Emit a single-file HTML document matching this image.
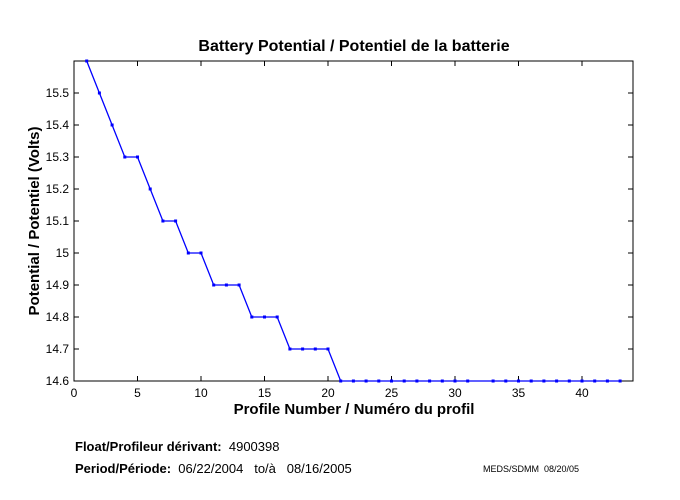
<!DOCTYPE html>
<html><head><meta charset="utf-8"><style>
html,body{margin:0;padding:0;background:#fff;width:680px;height:500px;overflow:hidden}
text{font-family:"Liberation Sans",Arial,sans-serif}
.pre{white-space:pre}
</style></head><body>
<svg width="680" height="500" viewBox="0 0 680 500" xmlns="http://www.w3.org/2000/svg">
<rect x="74" y="61" width="559" height="320" fill="#fff" stroke="#000" stroke-width="1"/>
<g stroke="#000" stroke-width="1">
<path d="M137.5 381v-5M201 381v-5M264.5 381v-5M328 381v-5M391.5 381v-5M455 381v-5M518.5 381v-5M582 381v-5
M137.5 61v5M201 61v5M264.5 61v5M328 61v5M391.5 61v5M455 61v5M518.5 61v5M582 61v5
M74 349h5M74 317h5M74 285h5M74 253h5M74 221h5M74 189h5M74 157h5M74 125h5M74 93h5
M633 349h-5M633 317h-5M633 285h-5M633 253h-5M633 221h-5M633 189h-5M633 157h-5M633 125h-5M633 93h-5"/>
</g>
<g font-size="12" text-anchor="middle" fill="#000">
<text x="74" y="397">0</text><text x="137.5" y="397">5</text><text x="201" y="397">10</text><text x="264.5" y="397">15</text><text x="328" y="397">20</text><text x="391.5" y="397">25</text><text x="455" y="397">30</text><text x="518.5" y="397">35</text><text x="582" y="397">40</text>
</g>
<g font-size="12" text-anchor="end" fill="#000">
<text x="69" y="385">14.6</text><text x="69" y="353">14.7</text><text x="69" y="321">14.8</text><text x="69" y="289">14.9</text><text x="69" y="257">15</text><text x="69" y="225">15.1</text><text x="69" y="193">15.2</text><text x="69" y="161">15.3</text><text x="69" y="129">15.4</text><text x="69" y="97">15.5</text>
</g>
<text x="354" y="51" font-size="16" font-weight="bold" text-anchor="middle">Battery Potential / Potentiel de la batterie</text>
<text x="354" y="414" font-size="15" font-weight="bold" text-anchor="middle">Profile Number / Numéro du profil</text>
<text transform="translate(39,221) rotate(-90)" font-size="15" font-weight="bold" text-anchor="middle">Potential / Potentiel (Volts)</text>
<polyline fill="none" stroke="#0000ff" stroke-width="1.3" points="86.7,61 99.4,93 112.1,125 124.8,157 137.5,157 150.2,189 162.9,221 175.6,221 188.3,253 201,253 213.7,285 226.4,285 239.1,285 251.8,317 264.5,317 277.2,317 289.9,349 302.6,349 315.3,349 328,349 340.7,381 620.1,381"/>
<g fill="#0000ff">
<rect x="85.2" y="59.5" width="3" height="3"/><rect x="97.9" y="91.5" width="3" height="3"/><rect x="110.6" y="123.5" width="3" height="3"/><rect x="123.3" y="155.5" width="3" height="3"/><rect x="136" y="155.5" width="3" height="3"/><rect x="148.7" y="187.5" width="3" height="3"/><rect x="161.4" y="219.5" width="3" height="3"/><rect x="174.1" y="219.5" width="3" height="3"/><rect x="186.8" y="251.5" width="3" height="3"/><rect x="199.5" y="251.5" width="3" height="3"/><rect x="212.2" y="283.5" width="3" height="3"/><rect x="224.9" y="283.5" width="3" height="3"/><rect x="237.6" y="283.5" width="3" height="3"/><rect x="250.3" y="315.5" width="3" height="3"/><rect x="263" y="315.5" width="3" height="3"/><rect x="275.7" y="315.5" width="3" height="3"/><rect x="288.4" y="347.5" width="3" height="3"/><rect x="301.1" y="347.5" width="3" height="3"/><rect x="313.8" y="347.5" width="3" height="3"/><rect x="326.5" y="347.5" width="3" height="3"/>
<rect x="339.2" y="379.5" width="3" height="3"/><rect x="351.9" y="379.5" width="3" height="3"/><rect x="364.6" y="379.5" width="3" height="3"/><rect x="377.3" y="379.5" width="3" height="3"/><rect x="390" y="379.5" width="3" height="3"/><rect x="402.7" y="379.5" width="3" height="3"/><rect x="415.4" y="379.5" width="3" height="3"/><rect x="428.1" y="379.5" width="3" height="3"/><rect x="440.8" y="379.5" width="3" height="3"/><rect x="453.5" y="379.5" width="3" height="3"/><rect x="466.2" y="379.5" width="3" height="3"/><rect x="491.6" y="379.5" width="3" height="3"/><rect x="504.3" y="379.5" width="3" height="3"/><rect x="517" y="379.5" width="3" height="3"/><rect x="529.7" y="379.5" width="3" height="3"/><rect x="542.4" y="379.5" width="3" height="3"/><rect x="555.1" y="379.5" width="3" height="3"/><rect x="567.8" y="379.5" width="3" height="3"/><rect x="580.5" y="379.5" width="3" height="3"/><rect x="593.2" y="379.5" width="3" height="3"/><rect x="605.9" y="379.5" width="3" height="3"/><rect x="618.6" y="379.5" width="3" height="3"/>
</g>
<text x="75" y="451" font-size="13" class="pre"><tspan font-weight="bold">Float/Profileur dérivant:</tspan>  4900398</text>
<text x="75" y="473" font-size="13" class="pre"><tspan font-weight="bold">Period/Période:</tspan>  06/22/2004   to/à   08/16/2005</text>
<text x="483" y="472" font-size="9" class="pre">MEDS/SDMM  08/20/05</text>
</svg>
</body></html>
